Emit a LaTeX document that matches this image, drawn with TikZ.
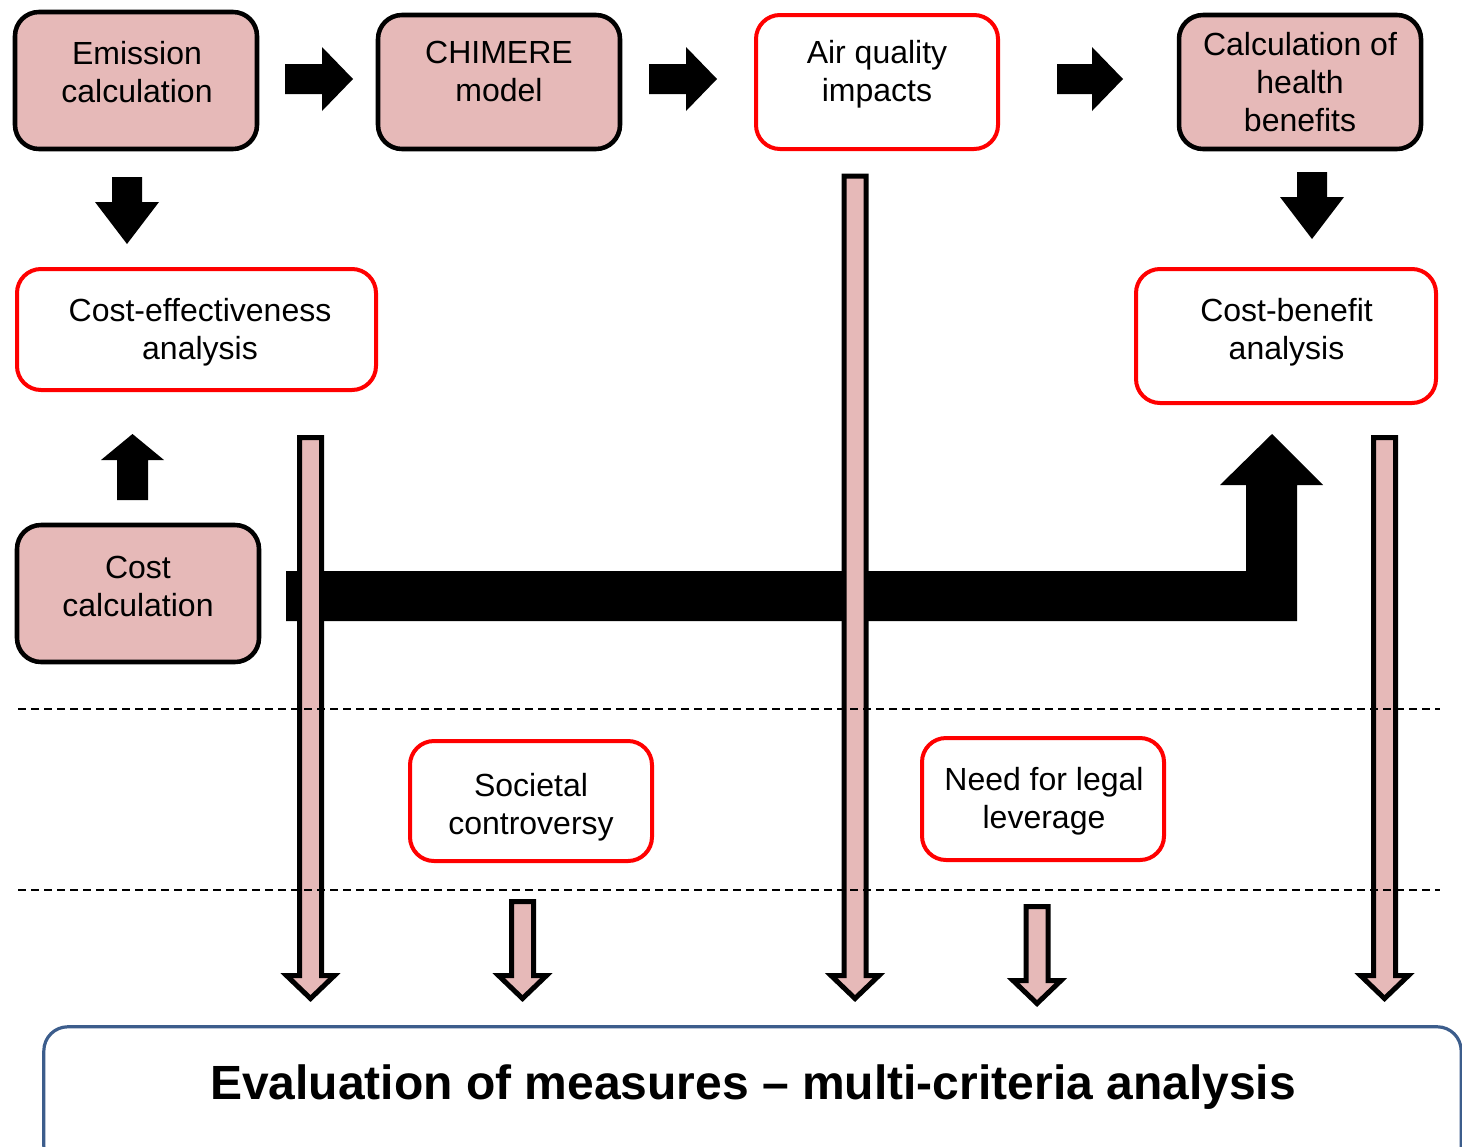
\documentclass[tikz,border=0pt]{standalone}
\usepackage{fontspec}
\setmainfont{Liberation Sans}
\usetikzlibrary{positioning}

\definecolor{boxpink}{HTML}{E6B9B8}
\definecolor{boxred}{HTML}{FF0000}
\definecolor{evalblue}{HTML}{3C5D8C}

\begin{document}
\begin{tikzpicture}[
  x=0.75pt, y=-0.75pt,
  every node/.style={font=\fontsize{24}{28.5}\selectfont},
  pinkbox/.style={draw=black, line width=3.4pt, rounded corners=18pt,
    fill=boxpink, inner sep=0pt},
  redbox/.style={draw=boxred, line width=3pt, rounded corners=18pt,
    fill=white, inner sep=0pt},
  evalbox/.style={draw=evalblue, line width=2.4pt, rounded corners=18pt,
    fill=white, inner sep=0pt},
  topsize/.style={minimum width=181.5pt, minimum height=100.5pt},
  boxtxt/.style={align=center, inner sep=0pt},
  blkarr/.style={fill=black},
  pinkarr/.style={draw=black, line width=3.75pt, fill=boxpink, line join=miter},
  sepline/.style={line width=1.1pt, dash pattern=on 6pt off 3.75pt},
]
\useasboundingbox (0,0) rectangle (1462,1146);

%% ---- Top row ----
\node[pinkbox, topsize, minimum height=102.75pt] (emis) at (136,80.5) {};
\node[boxtxt] (emistxt) at (137,72) {Emission\\calculation};

\node[pinkbox, topsize] (chim) at (499,82) {};
\node[boxtxt] (chimtxt) at (499,71.5) {CHIMERE\\model};

\node[redbox, topsize] (airq) at (877,82) {};
\node[boxtxt] (airqtxt) at (877,74.5) {Air quality\\impacts};

\node[pinkbox, topsize] (hben) at (1300,82) {};
\node[boxtxt] (hbentxt) at (1300,82.5) {Calculation of\\health\\benefits};

%% ---- Analyses ----
\node[redbox, minimum width=269.25pt, minimum height=90.75pt] (ceff) at (196.5,329.5) {};
\node[boxtxt] (cefftxt) at (200,332) {Cost-effectiveness\\analysis};

\node[redbox, minimum width=225pt, minimum height=100.5pt] (cben) at (1286,336) {};
\node[boxtxt] (cbentxt) at (1286.5,332) {Cost-benefit\\analysis};

\node[pinkbox, topsize, minimum height=102.75pt] (cost) at (138,593.5) {};
\node[boxtxt] (costtxt) at (138,586) {Cost\\calculation};

%% ---- Other criteria ----
\node[redbox, topsize, minimum height=90pt] (soc) at (531,801) {};
\node[boxtxt] (soctxt) at (531,807) {Societal\\controversy};

\node[redbox, topsize, minimum height=91.5pt] (legal) at (1043,799) {};
\node[boxtxt] (legaltxt) at (1044,801) {Need for legal\\leverage};

%% ---- Evaluation ----
\node[evalbox, minimum width=1063pt, minimum height=107.6pt] (eval) at (752.5,1098.5) {};
\node[boxtxt, font=\fontsize{36}{43}\selectfont\bfseries] (evaltxt) at (753,1087)
  {Evaluation of measures – multi-criteria analysis};

%% ---- Black block arrows ----
\fill[blkarr] (285,64) -- (322,64) -- (322,47) -- (353,79) -- (322,111) -- (322,94) -- (285,94) -- cycle;
\fill[blkarr] (649,64) -- (686,64) -- (686,47) -- (717,79) -- (686,111) -- (686,94) -- (649,94) -- cycle;
\fill[blkarr] (1057,64) -- (1092,64) -- (1092,47) -- (1123,79) -- (1092,111) -- (1092,94) -- (1057,94) -- cycle;
\fill[blkarr] (112,177) -- (142,177) -- (142,202) -- (159,202) -- (127,244) -- (95,202) -- (112,202) -- cycle;
\fill[blkarr] (1297,172) -- (1327,172) -- (1327,197) -- (1344,197) -- (1312,239) -- (1280,197) -- (1297,197) -- cycle;
\fill[blkarr] (117,500) -- (148,500) -- (148,460) -- (164,460) -- (132.5,434) -- (101,460) -- (117,460) -- cycle;
\fill[blkarr] (286,571) -- (1246,571) -- (1246,485) -- (1220,485) -- (1272,434) -- (1323,485)
  -- (1297,485) -- (1297,621) -- (286,621) -- cycle;

%% ---- Pink arrows into the evaluation ----
\draw[pinkarr] (299.5,437.5) -- (321.5,437.5) -- (321.5,975.5) -- (334.5,975.5) -- (310.5,998.5)
  -- (286.5,975.5) -- (299.5,975.5) -- cycle;
\draw[pinkarr] (511.5,901.5) -- (533.5,901.5) -- (533.5,975.5) -- (546.5,975.5) -- (522.5,998.5)
  -- (498.5,975.5) -- (511.5,975.5) -- cycle;
\draw[pinkarr] (844,176) -- (866,176) -- (866,975.5) -- (879,975.5) -- (855,998.5)
  -- (831,975.5) -- (844,975.5) -- cycle;
\draw[pinkarr] (1026,906.5) -- (1048,906.5) -- (1048,980.5) -- (1061,980.5) -- (1037,1003.5)
  -- (1013,980.5) -- (1026,980.5) -- cycle;
\draw[pinkarr] (1373.5,437.5) -- (1395.5,437.5) -- (1395.5,975.5) -- (1408.5,975.5) -- (1384.5,998.5)
  -- (1360.5,975.5) -- (1373.5,975.5) -- cycle;

%% ---- Separators ----
\draw[sepline] (18,709) -- (1440,709);
\draw[sepline] (18,890) -- (1440,890);

\end{tikzpicture}
\end{document}
